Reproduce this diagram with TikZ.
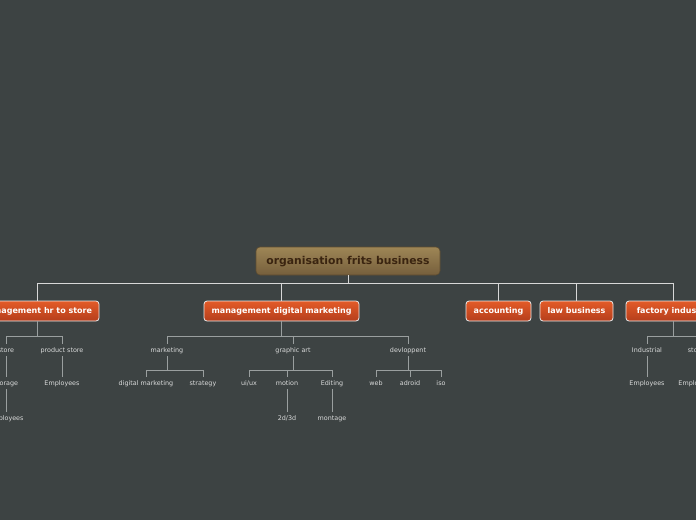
\documentclass[tikz,border=0pt]{standalone}
\usepackage{fontspec}
\setmainfont{DejaVu Sans}
\definecolor{bg}{HTML}{3D4343}
\definecolor{roottop}{HTML}{9E8656}
\definecolor{rootbot}{HTML}{765F3C}
\definecolor{roottext}{HTML}{3A2410}
\definecolor{ortop}{HTML}{E35B28}
\definecolor{orbot}{HTML}{B53E1C}
\definecolor{lineA}{HTML}{D8D8D8}
\definecolor{lineB}{HTML}{9A9F9F}
\definecolor{smalltext}{HTML}{D9DADA}
\begin{document}
\begin{tikzpicture}[x=1pt,y=-1pt,
 rootbox/.style={draw=rootbot!80!black, line width=0.6pt, rounded corners=4pt, top color=roottop, bottom color=rootbot, text=roottext, font=\fontsize{10.8}{12}\selectfont\bfseries, minimum width=184pt, minimum height=28pt, inner sep=0pt, text height=10pt, text depth=2.2pt},
 topic/.style={draw=white!85!gray, line width=0.8pt, rounded corners=3pt, top color=ortop, bottom color=orbot, text=white, font=\fontsize{8}{9}\selectfont\bfseries, minimum height=20pt, inner sep=0pt, text height=7.4pt, text depth=1.6pt},
 sub/.style={text=smalltext, font=\fontsize{6.4}{7}\selectfont, minimum height=12pt, inner sep=0pt, text height=6.2pt, text depth=1.3pt},
 mainline/.style={draw=lineA, line width=0.9pt},
 subline/.style={draw=lineB, line width=0.8pt}]
\fill[bg] (0,0) rectangle (696,520);
\useasboundingbox (0,0) rectangle (696,520);
\clip (0,0) rectangle (696,520);
% root and topics
\node[rootbox] (root) at (348,261) {organisation frits business};
\node[topic, minimum width=124pt] (hr) at (37,311) {management hr to store};
\node[topic, minimum width=155pt] (dm) at (281.5,311) {management digital marketing};
\node[topic, minimum width=65pt] (acc) at (498.5,311) {accounting};
\node[topic, minimum width=73pt] (law) at (576.5,311) {law business};
\node[topic, minimum width=94pt] (fac) at (673,311) {factory industry};
% level 1
\node[sub] (hrA) at (6,350) {store};
\node[sub] (hrB) at (62,350) {product store};
\node[sub] (mk) at (167,350) {marketing};
\node[sub] (ga) at (293,350) {graphic art};
\node[sub] (dv) at (408,350) {devloppent};
\node[sub] (ind) at (647,350) {Industrial};
\node[sub] (fs) at (696,350) {store};
% level 2
\node[sub] (stg) at (6,383) {storage};
\node[sub] (pe) at (62,383) {Employees};
\node[sub] (dmk) at (146,383) {digital marketing};
\node[sub] (str) at (203,383) {strategy};
\node[sub] (ui) at (249,383) {ui/ux};
\node[sub] (mo) at (287,383) {motion};
\node[sub] (ed) at (332,383) {Editing};
\node[sub] (web) at (376,383) {web};
\node[sub] (adr) at (410,383) {adroid};
\node[sub] (iso) at (441,383) {iso};
\node[sub] (ie) at (647,383) {Employees};
\node[sub] (fe) at (696,383) {Employees};
% level 3
\node[sub] (se) at (6,418) {Employees};
\node[sub] (d23) at (287,418) {2d/3d};
\node[sub] (mon) at (332,418) {montage};
% connectors root -> topics
\foreach \t in {hr,dm,acc,law,fac}
  \draw[mainline] (root.south) -- (root.south |- 0,283) -| (\t.north);
% topics -> level 1
\foreach \p/\c in {hr/hrA,hr/hrB,dm/mk,dm/ga,dm/dv,fac/ind,fac/fs}
  \draw[subline] (\p.south) -- (\p.south |- 0,336) -| (\c.north);
% level 1 -> level 2 (multi)
\foreach \p/\c in {mk/dmk,mk/str,ga/ui,ga/mo,ga/ed,dv/web,dv/adr,dv/iso}
  \draw[subline] (\p.south) -- (\p.south |- 0,370) -| (\c.north);
% single children
\foreach \p/\c in {hrA/stg,hrB/pe,ind/ie,fs/fe,stg/se,mo/d23,ed/mon}
  \draw[subline] (\p.south) -- (\c.north);
\end{tikzpicture}
\end{document}
